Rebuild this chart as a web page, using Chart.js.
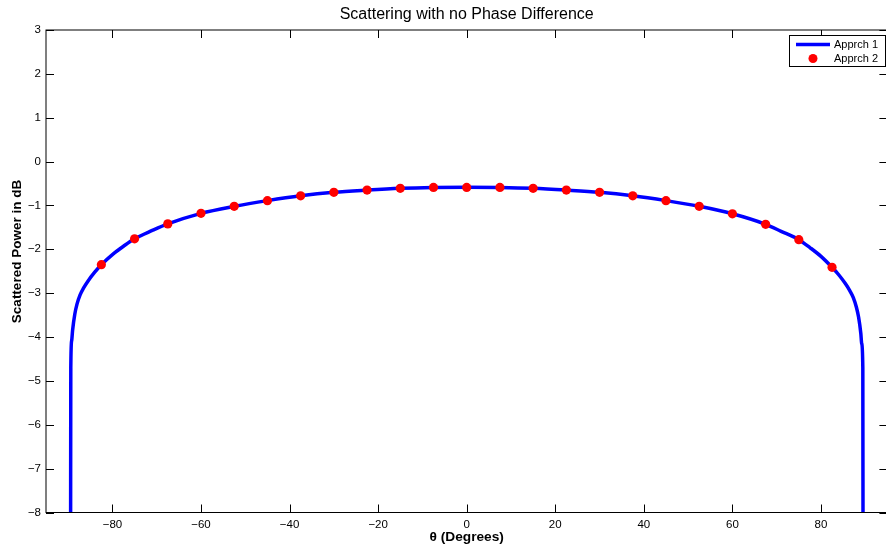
<!DOCTYPE html>
<html>
<head>
<meta charset="utf-8">
<script src="https://cdn.jsdelivr.net/npm/chart.js@4.4.1/dist/chart.umd.min.js"></script>
<style>
    html, body { margin: 0; padding: 0; overflow: hidden; background: #fff; }
    #wrap { width: 886px; height: 550px; overflow: hidden; }
</style>
</head>
<body>
<div id="wrap"><canvas id="myChart" width="892" height="550"></canvas></div>
<script>
// Apprch 1 - continuous curve
const lineTheta = [-89.45, -89.4, -89.2, -89.0, -88.5, -88.0, -87.3, -86.5, -85.5, -84.0, -82.5, -80.0, -77.5, -75.0, -71.0,
    -67.5, -60.0, -52.5, -45.0, -37.5, -30.0, -22.5, -15.0, -7.5, 0,
    7.5, 15.0, 22.5, 30.0, 37.5, 45.0, 52.5, 60.0, 67.5,
    71.0, 75.0, 77.5, 80.0, 82.5, 84.0, 85.5, 86.5, 87.3, 88.0, 88.5, 89.0, 89.2, 89.45, 89.5];
const linePower = [-9.0, -4.7, -4.08, -3.85, -3.48, -3.25, -3.04, -2.88, -2.72, -2.52, -2.35, -2.12, -1.93, -1.76, -1.57,
    -1.42, -1.18, -1.02, -0.89, -0.78, -0.70, -0.65, -0.61, -0.59, -0.585,
    -0.59, -0.61, -0.65, -0.70, -0.78, -0.89, -1.02, -1.19, -1.43,
    -1.59, -1.78, -1.96, -2.16, -2.41, -2.58, -2.78, -2.94, -3.1, -3.32, -3.55, -3.92, -4.15, -4.7, -9.0];

// Apprch 2 - sampled points
const dotTheta = [-82.5, -75, -67.5, -60, -52.5, -45, -37.5, -30, -22.5, -15, -7.5, 0,
    7.5, 15, 22.5, 30, 37.5, 45, 52.5, 60, 67.5, 75, 82.5];
const dotPower = [-2.35, -1.76, -1.42, -1.18, -1.02, -0.89, -0.78, -0.70, -0.65, -0.61, -0.59, -0.59,
    -0.59, -0.61, -0.65, -0.70, -0.78, -0.89, -1.02, -1.19, -1.43, -1.78, -2.41];

const seriesNames = ['Apprch 1', 'Apprch 2'];
const chartTitle = 'Scattering with no Phase Difference';
const xTitle = '\u03b8 (Degrees)';
const yTitle = 'Scattered Power in dB';

const FONT = '"Liberation Sans", Arial, Helvetica, sans-serif';
const TICK_LEN = 8;

const matlabFrame = {
    id: 'matlabFrame',
    afterDraw(chart) {
        const { ctx, chartArea: a, scales } = chart;
        ctx.save();
        ctx.strokeStyle = '#000';
        ctx.lineWidth = 1;
        ctx.strokeRect(a.left, a.top, a.right - a.left, a.bottom - a.top);
        ctx.beginPath();
        scales.x.ticks.forEach(t => {
            const x = Math.round(scales.x.getPixelForValue(t.value)) + 0.5;
            ctx.moveTo(x, a.bottom); ctx.lineTo(x, a.bottom - TICK_LEN);
            ctx.moveTo(x, a.top); ctx.lineTo(x, a.top + TICK_LEN);
        });
        scales.y.ticks.forEach(t => {
            const y = Math.round(scales.y.getPixelForValue(t.value)) + 0.5;
            ctx.moveTo(a.left, y); ctx.lineTo(a.left + TICK_LEN, y);
            ctx.moveTo(a.right, y); ctx.lineTo(a.right - TICK_LEN, y);
        });
        ctx.stroke();

        // title over the axes box
        ctx.fillStyle = '#000';
        ctx.font = '16px ' + FONT;
        ctx.textAlign = 'center';
        ctx.textBaseline = 'middle';
        ctx.fillText(chartTitle, (a.left + a.right) / 2, 15);

        // y label (sits a bit above the axis middle, like the original)
        ctx.save();
        ctx.translate(17.5, 251.5);
        ctx.rotate(-Math.PI / 2);
        ctx.font = 'bold 13.5px ' + FONT;
        ctx.fillText(yTitle, 0, 0);
        ctx.restore();

        // legend box, top right
        const bx = 789.5, by = 35.5, bw = 96, bh = 31;
        ctx.fillStyle = '#fff';
        ctx.fillRect(bx, by, bw, bh);
        ctx.strokeRect(bx, by, bw, bh);
        ctx.strokeStyle = '#0000ff';
        ctx.lineWidth = 3.5;
        ctx.beginPath();
        ctx.moveTo(796, 44.5); ctx.lineTo(830, 44.5);
        ctx.stroke();
        ctx.fillStyle = '#ff0000';
        ctx.beginPath();
        ctx.arc(813, 58.5, 4.5, 0, Math.PI * 2);
        ctx.fill();
        ctx.fillStyle = '#000';
        ctx.font = '11px ' + FONT;
        ctx.textAlign = 'left';
        ctx.fillText(seriesNames[0], 834, 44.5);
        ctx.fillText(seriesNames[1], 834, 58.5);
        ctx.restore();
    }
};

const minusSign = v => String(v).replace('-', '\u2212');

new Chart(document.getElementById('myChart'), {
    type: 'scatter',
    data: {
        datasets: [{
            label: seriesNames[0],
            data: lineTheta.map((t, i) => ({ x: t, y: linePower[i] })),
            showLine: true,
            borderColor: '#0000ff',
            borderWidth: 3.5,
            pointRadius: 0,
            cubicInterpolationMode: 'monotone',
            order: 2
        }, {
            label: seriesNames[1],
            data: dotTheta.map((t, i) => ({ x: t, y: dotPower[i] })),
            showLine: false,
            backgroundColor: '#ff0000',
            borderColor: '#ff0000',
            borderWidth: 0,
            pointRadius: 4.6,
            order: 1
        }]
    },
    options: {
        responsive: false,
        animation: false,
        layout: { padding: { top: 30, right: 1.5, left: 0, bottom: 0 } },
        plugins: {
            legend: { display: false },
            tooltip: { enabled: false },
            title: { display: false }
        },
        scales: {
            x: {
                type: 'linear',
                min: -95,
                max: 95,
                grid: { display: false, drawTicks: false },
                border: { display: false },
                ticks: {
                    stepSize: 20,
                    includeBounds: false,
                    padding: 5,
                    color: '#000',
                    font: { family: FONT, size: 11.5 },
                    maxRotation: 0,
                    callback: v => minusSign(v)
                },
                title: {
                    display: true,
                    text: xTitle,
                    color: '#000',
                    font: { family: FONT, size: 13.7, weight: 'bold' },
                    padding: { top: 0, bottom: 5 }
                },
                afterFit(scale) { scale.height = 37.5; }
            },
            y: {
                min: -8,
                max: 3,
                grid: { display: false, drawTicks: false },
                border: { display: false },
                ticks: {
                    stepSize: 1,
                    padding: 5,
                    color: '#000',
                    font: { family: FONT, size: 11.5 },
                    callback: v => minusSign(v)
                },
                afterFit(scale) { scale.width = 46; }
            }
        }
    },
    plugins: [matlabFrame]
});
</script>
</body>
</html>
